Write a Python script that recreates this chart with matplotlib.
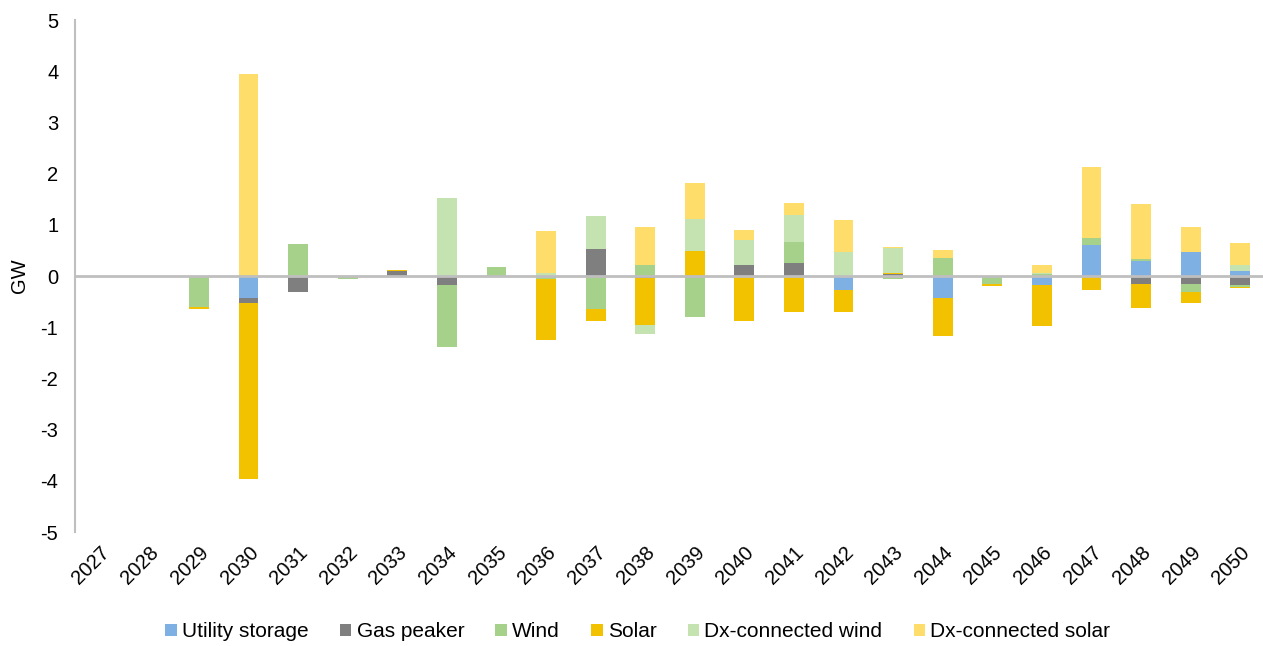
import numpy as np
import matplotlib.pyplot as plt
import matplotlib as mpl

mpl.rcParams['font.family'] = ['Liberation Sans', 'DejaVu Sans']
mpl.rcParams['axes.unicode_minus'] = False

# ============================================================
# DATA (GW change per year)
# ============================================================
years = [str(y) for y in range(2027, 2051)]

utility_storage = [0, -0.02, 0, -0.435, 0, 0, 0, 0, 0, 0, 0, 0,
                   0, 0, 0, -0.27, 0, -0.42, 0, -0.18, 0.61, 0.30, 0.475, 0.10]
gas_peaker = [0, 0, 0, -0.094, -0.31, 0, 0.09, -0.17, 0, 0, 0.53, -0.04,
              0, 0.21, 0.25, 0, 0.03, 0, 0, 0, 0, -0.16, -0.16, -0.18]
wind = [0, 0, -0.60, 0, 0.63, -0.06, 0, -1.22, 0.17, -0.06, -0.65, 0.21,
        -0.80, 0, 0.42, 0, -0.05, 0.36, -0.16, 0.03, 0.13, 0.04, -0.16, -0.04]
solar = [0, 0, -0.04, -3.44, 0, 0, 0.02, 0, 0, -1.19, -0.22, -0.92,
         0.49, -0.87, -0.70, -0.43, 0.02, -0.76, -0.03, -0.79, -0.27, -0.46, -0.21, -0.02]
dx_wind = [0, 0, 0, 0, 0, 0, 0, 1.52, 0, 0.05, 0.64, -0.17,
           0.63, 0.49, 0.52, 0.475, 0.50, 0, 0, 0.03, 0, 0, 0, 0.12]
dx_solar = [0, 0, 0, 3.945, 0, 0, 0, 0, 0, 0.83, 0, 0.75,
            0.69, 0.19, 0.24, 0.62, 0.02, 0.15, 0, 0.16, 1.39, 1.07, 0.49, 0.43]

series = [
    ("Utility storage", utility_storage, "#7EB0E3"),
    ("Gas peaker", gas_peaker, "#7F7F7F"),
    ("Wind", wind, "#A6D18A"),
    ("Solar", solar, "#F2C100"),
    ("Dx-connected wind", dx_wind, "#C5E3B1"),
    ("Dx-connected solar", dx_solar, "#FFDD6B"),
]

# ============================================================
# FIGURE
# ============================================================
fig = plt.figure(figsize=(12.63, 6.46), dpi=100)
ax = fig.add_axes([75 / 1263, 114 / 646, 1190 / 1263, 512 / 646])

x = np.arange(len(years))
pos_bottom = np.zeros(len(years))
neg_bottom = np.zeros(len(years))

# Excel-style stacking: positives up, negatives down, in series order
for label, vals, col in series:
    v = np.array(vals, dtype=float)
    bottom = np.where(v >= 0, pos_bottom, neg_bottom)
    ax.bar(x, v, width=0.4, bottom=bottom, color=col, label=label,
           linewidth=0, zorder=2)
    pos_bottom += np.where(v > 0, v, 0)
    neg_bottom += np.where(v < 0, v, 0)

ax.axhline(0, color="#BFBFBF", lw=2, zorder=3)

ax.set_xlim(-0.5, len(years) - 0.5)
ax.set_ylim(-5, 5)
ax.set_yticks(np.arange(-5, 6, 1))
ax.tick_params(axis="y", length=0, labelsize=14.5, pad=12)
ax.tick_params(axis="x", length=0, labelsize=14.5, pad=8)
ax.set_xticks(x)
ax.set_xticklabels(years, rotation=45, ha="right", rotation_mode="anchor")

ax.set_ylabel("GW", fontsize=14.5, labelpad=8)

for s in ["top", "right", "bottom"]:
    ax.spines[s].set_visible(False)
ax.spines["left"].set_color("#BFBFBF")
ax.spines["left"].set_linewidth(1.5)

fig.legend(loc="center", bbox_to_anchor=(0.505, 0.022), ncol=6,
           frameon=False, fontsize=15, handlelength=0.55, handleheight=0.55,
           handletextpad=0.25, columnspacing=1.5)

plt.savefig("out.png", dpi=100)
